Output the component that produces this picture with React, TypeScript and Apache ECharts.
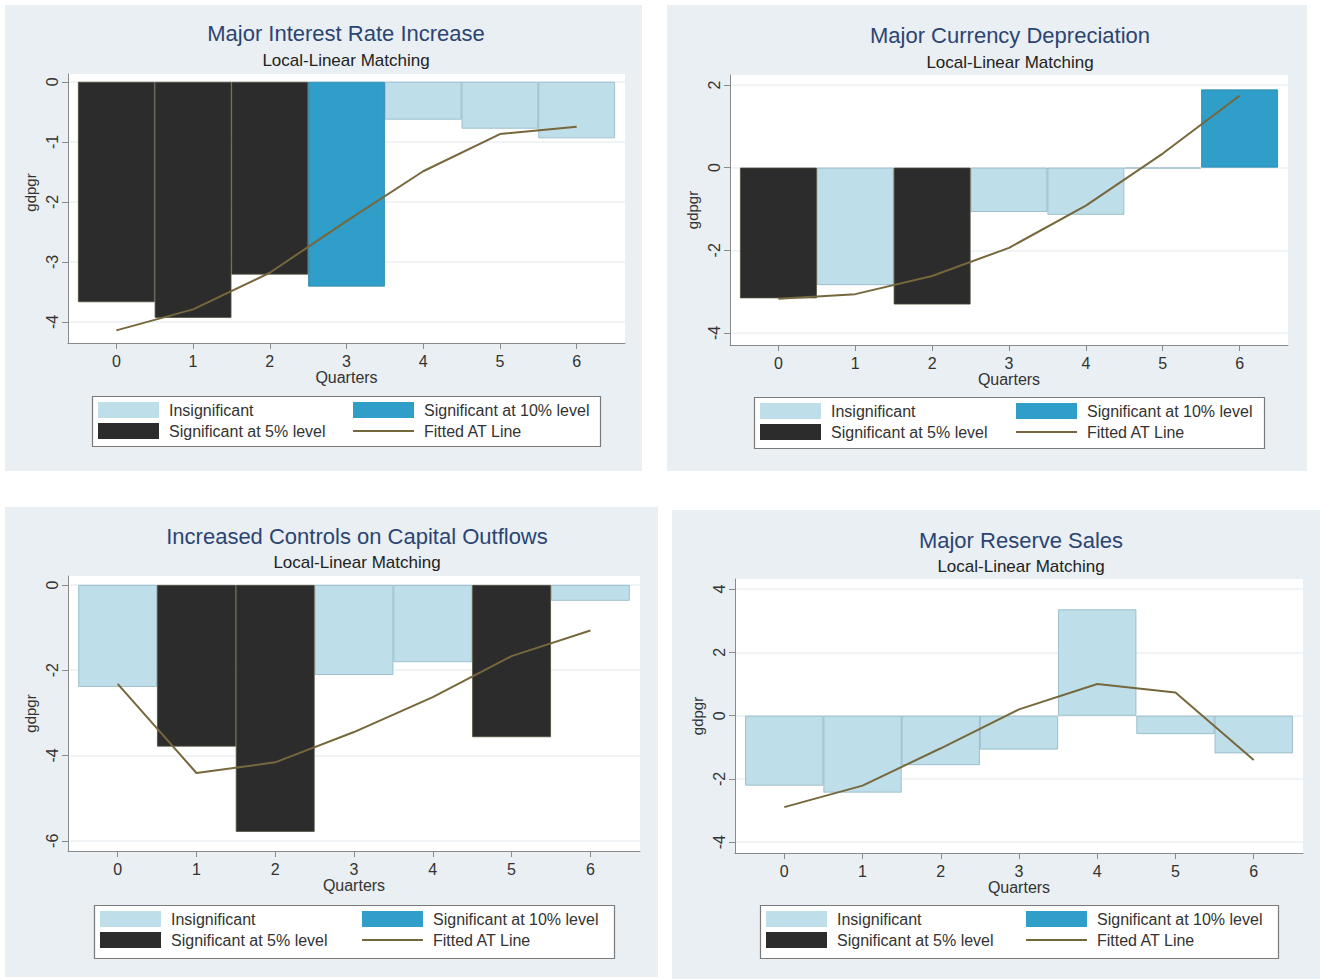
import React, { useEffect, useRef } from "react";
import * as echarts from "echarts";

// ---------- Data ----------
const quarters = [0, 1, 2, 3, 4, 5, 6];

const titles = [
  "Major Interest Rate Increase",
  "Major Currency Depreciation",
  "Increased Controls on Capital Outflows",
  "Major Reserve Sales",
];
const subtitle = "Local-Linear Matching";

// ins = Insignificant, s10 = Significant at 10% level, s5 = Significant at 5% level
const rateBars = [-3.67, -3.93, -3.21, -3.41, -0.63, -0.78, -0.94];
const rateClass = ["s5", "s5", "s5", "s10", "ins", "ins", "ins"];
const rateFit = [-4.14, -3.79, -3.18, -2.32, -1.49, -0.87, -0.75];
const rateTicks = [0, -1, -2, -3, -4];

const currBars = [-3.16, -2.84, -3.31, -1.07, -1.14, -0.02, 1.89];
const currClass = ["s5", "ins", "s5", "ins", "ins", "ins", "s10"];
const currFit = [-3.17, -3.06, -2.62, -1.94, -0.92, 0.34, 1.74];
const currTicks = [2, 0, -2, -4];

const ctrlBars = [-2.39, -3.79, -5.79, -2.11, -1.81, -3.57, -0.37];
const ctrlClass = ["ins", "s5", "s5", "ins", "ins", "s5", "ins"];
const ctrlFit = [-2.32, -4.41, -4.16, -3.45, -2.63, -1.67, -1.07];
const ctrlTicks = [0, -2, -4, -6];

const resBars = [-2.21, -2.43, -1.56, -1.07, 3.36, -0.58, -1.19];
const resClass = ["ins", "ins", "ins", "ins", "ins", "ins", "ins"];
const resFit = [-2.89, -2.21, -1.03, 0.2, 1.0, 0.73, -1.4];
const resTicks = [4, 2, 0, -2, -4];

const classNames: Record<string, string> = {
  ins: "Insignificant",
  s10: "Significant at 10% level",
  s5: "Significant at 5% level",
};
const fitName = "Fitted AT Line";

// ---------- Styles / layout ----------
const FONT = '"Liberation Sans", Arial, Helvetica, sans-serif';
const COLORS: Record<string, string> = { ins: "#bedfe9", s10: "#2f9ec8", s5: "#2c2c2c" };
const BORDERS: Record<string, string> = { ins: "#8fb5c4", s10: "#2a86aa", s5: "#4f4d3a" };
const FIT_COLOR = "#76673c";
const AXIS_COLOR = "#8a8a8a";
const TEXT_COLOR = "#333333";
const BG = "#e9eff2";
const X_MIN = -0.63;
const X_MAX = 6.63;

const layouts = [
  { bg: [5, 5, 637, 466], grid: { left: 68, top: 74, width: 557, height: 269 }, yMin: -4.35, yMax: 0.13, box: [92, 396, 508, 50], col2: 260, titleX: 346, titleY: 33, subY: 60, nameShift: 32 },
  { bg: [667, 5, 640, 466], grid: { left: 730, top: 75, width: 558, height: 270 }, yMin: -4.29, yMax: 2.24, box: [754, 397, 510, 51], col2: 261, titleX: 1010, titleY: 35, subY: 62, nameShift: 0 },
  { bg: [5, 507, 653, 470], grid: { left: 68, top: 576, width: 572, height: 275 }, yMin: -6.24, yMax: 0.21, box: [94, 905, 520, 53], col2: 267, titleX: 357, titleY: 536, subY: 562, nameShift: 0 },
  { bg: [672, 510, 648, 469], grid: { left: 735, top: 579, width: 568, height: 274 }, yMin: -4.34, yMax: 4.32, box: [760, 905, 518, 53], col2: 265, titleX: 1021, titleY: 540, subY: 566, nameShift: 0 },
];

const panelData = [
  { bars: rateBars, cls: rateClass, fit: rateFit, ticks: rateTicks },
  { bars: currBars, cls: currClass, fit: currFit, ticks: currTicks },
  { bars: ctrlBars, cls: ctrlClass, fit: ctrlFit, ticks: ctrlTicks },
  { bars: resBars, cls: resClass, fit: resFit, ticks: resTicks },
];

function buildOption() {
  const grid: any[] = [];
  const xAxis: any[] = [];
  const yAxis: any[] = [];
  const series: any[] = [];
  const legend: any[] = [];
  const graphic: any[] = [];

  panelData.forEach((pd, k) => {
    const L = layouts[k];
    grid.push({
      left: L.grid.left,
      top: L.grid.top,
      width: L.grid.width,
      height: L.grid.height,
      show: true,
      backgroundColor: "#ffffff",
      borderWidth: 0,
      containLabel: false,
    });
    xAxis.push({
      type: "value",
      gridIndex: k,
      min: X_MIN,
      max: X_MAX,
      position: "bottom",
      axisLine: { show: true, onZero: false, lineStyle: { color: AXIS_COLOR, width: 1 } },
      axisTick: { show: true, length: 6, customValues: quarters, lineStyle: { color: AXIS_COLOR } },
      axisLabel: { customValues: quarters, fontSize: 16, color: TEXT_COLOR, fontFamily: FONT, margin: 10 },
      splitLine: { show: false },
      name: "Quarters",
      nameLocation: "middle",
      nameGap: 25,
      nameTextStyle: { fontSize: 16, color: TEXT_COLOR, fontFamily: FONT },
    });
    yAxis.push({
      type: "value",
      gridIndex: k,
      min: L.yMin,
      max: L.yMax,
      position: "left",
      axisLine: { show: true, onZero: false, lineStyle: { color: AXIS_COLOR, width: 1 } },
      axisTick: { show: true, length: 6, customValues: pd.ticks, lineStyle: { color: AXIS_COLOR } },
      axisLabel: { customValues: pd.ticks, rotate: 90, fontSize: 16, color: TEXT_COLOR, fontFamily: FONT, margin: 8 },
      splitLine: { show: true, lineStyle: { color: "#edf1f3", width: 1.5 } },
      name: "gdpgr",
      nameLocation: "middle",
      nameGap: 30,
      nameRotate: 90,
      nameTextStyle: { fontSize: 15, color: TEXT_COLOR, fontFamily: FONT, padding: [0, 0, 0, L.nameShift] },
    });

    const barWidth = L.grid.width / (X_MAX - X_MIN);
    ["ins", "s10", "s5"].forEach((c) => {
      series.push({
        type: "bar",
        name: classNames[c],
        xAxisIndex: k,
        yAxisIndex: k,
        stack: "panel" + k,
        barWidth,
        data: quarters.map((q, i) => [q, pd.cls[i] === c ? pd.bars[i] : null]),
        itemStyle: { color: COLORS[c], borderColor: BORDERS[c], borderWidth: 0.8 },
        z: 2,
      });
    });
    series.push({
      type: "line",
      name: fitName,
      xAxisIndex: k,
      yAxisIndex: k,
      symbol: "none",
      data: quarters.map((q, i) => [q, pd.fit[i]]),
      lineStyle: { color: FIT_COLOR, width: 2 },
      itemStyle: { color: FIT_COLOR },
      z: 3,
    });

    const [bx, by, bw, bh] = L.box;
    const common = {
      orient: "vertical",
      top: by + 6,
      itemWidth: 61,
      itemHeight: 16,
      itemGap: 5,
      padding: 0,
      selectedMode: false,
      itemStyle: { borderWidth: 0 },
      textStyle: { fontSize: 16, color: TEXT_COLOR, fontFamily: FONT, padding: [0, 0, 0, 5] },
    };
    legend.push({
      ...common,
      left: bx + 6,
      data: [
        { name: classNames.ins, icon: "rect" },
        { name: classNames.s5, icon: "rect" },
      ],
    });
    legend.push({
      ...common,
      left: bx + L.col2,
      data: [
        { name: classNames.s10, icon: "rect" },
        { name: fitName, itemStyle: { opacity: 0 }, lineStyle: { color: FIT_COLOR, width: 2 } },
      ],
    });

    const [gx, gy, gw, gh] = L.bg;
    graphic.push({
      type: "rect",
      z: -100,
      silent: true,
      shape: { x: gx, y: gy, width: gw, height: gh },
      style: { fill: BG },
    });
    graphic.push({
      type: "rect",
      z: 1,
      silent: true,
      shape: { x: bx + 0.5, y: by + 0.5, width: bw, height: bh },
      style: { fill: "#ffffff", stroke: "#7a7a7a", lineWidth: 1.2 },
    });
    graphic.push({
      type: "text",
      z: 5,
      x: L.titleX,
      y: L.titleY,
      style: {
        text: titles[k],
        fill: "#2c4472",
        font: `22px ${FONT}`,
        textAlign: "center",
        textVerticalAlign: "middle",
      },
    });
    graphic.push({
      type: "text",
      z: 5,
      x: L.titleX,
      y: L.subY,
      style: {
        text: subtitle,
        fill: "#222222",
        font: `17px ${FONT}`,
        textAlign: "center",
        textVerticalAlign: "middle",
      },
    });
  });

  return {
    animation: false,
    backgroundColor: "#ffffff",
    grid,
    xAxis,
    yAxis,
    series,
    legend,
    graphic: { elements: graphic },
  };
}

export default function App() {
  const ref = useRef<HTMLDivElement>(null);
  useEffect(() => {
    if (!ref.current) return;
    const chart = echarts.init(ref.current, undefined, { renderer: "svg" });
    chart.setOption(buildOption() as any);
    return () => chart.dispose();
  }, []);
  return (
    <div
      ref={ref}
      style={{ position: "absolute", left: 0, top: 0, width: 1320, height: 979 }}
    />
  );
}
